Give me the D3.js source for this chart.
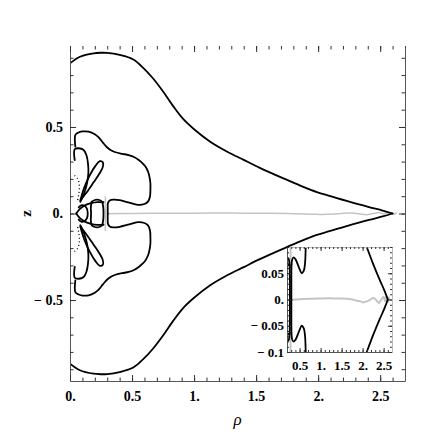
<!DOCTYPE html>
<html><head><meta charset="utf-8">
<script src="https://cdn.jsdelivr.net/npm/d3@7/dist/d3.min.js"></script>
<style>
html,body{margin:0;padding:0;background:#fff}
svg text{font-family:"Liberation Serif","Times New Roman",Times,"DejaVu Serif",serif !important;}
</style>
</head><body>
<svg id="c" width="436" height="436"></svg>
<script>
// ---------- data (rho, z) ----------
const outerUpper=[[0,0.868],[0.08,0.906],[0.19,0.926],[0.25,0.929],[0.30,0.928],[0.40,0.916],[0.51,0.89],[0.59,0.842],[0.67,0.78],[0.75,0.705],[0.83,0.622],[0.91,0.548],[1.0,0.487],[1.13,0.415],[1.26,0.36],[1.40,0.31],[1.53,0.264],[1.72,0.203],[1.86,0.16],[1.99,0.124],[2.09,0.102],[2.25,0.068],[2.41,0.037],[2.52,0.017],[2.6,0]];
const outerLower=[[0,-0.868],[0.08,-0.906],[0.19,-0.926],[0.25,-0.929],[0.30,-0.928],[0.40,-0.916],[0.51,-0.89],[0.59,-0.842],[0.67,-0.78],[0.75,-0.705],[0.83,-0.622],[0.91,-0.548],[1.0,-0.487],[1.13,-0.415],[1.26,-0.36],[1.40,-0.31],[1.53,-0.264],[1.72,-0.203],[1.86,-0.16],[1.99,-0.124],[2.09,-0.102],[2.25,-0.068],[2.41,-0.037],[2.52,-0.017],[2.6,0]];
const lobeUpper=[[0.043,0.386],[0.043,0.454],[0.065,0.467],[0.10,0.474],[0.15,0.473],[0.20,0.458],[0.231,0.44],[0.265,0.41],[0.298,0.383],[0.33,0.365],[0.366,0.354],[0.42,0.345],[0.473,0.338],[0.52,0.325],[0.554,0.309],[0.585,0.29],[0.608,0.271],[0.63,0.24],[0.64,0.213],[0.648,0.175],[0.648,0.136],[0.645,0.10],[0.63,0.07],[0.60,0.055],[0.55,0.05],[0.50,0.058],[0.46,0.066],[0.40,0.077],[0.35,0.08],[0.32,0.075],[0.306,0.06],[0.304,0.03],[0.304,0]];
const lobeLower=[[0.043,-0.386],[0.043,-0.454],[0.065,-0.467],[0.10,-0.474],[0.15,-0.473],[0.20,-0.458],[0.231,-0.44],[0.265,-0.41],[0.298,-0.383],[0.33,-0.365],[0.366,-0.354],[0.42,-0.345],[0.473,-0.338],[0.52,-0.325],[0.554,-0.309],[0.585,-0.29],[0.608,-0.271],[0.63,-0.24],[0.64,-0.213],[0.648,-0.175],[0.648,-0.136],[0.645,-0.10],[0.63,-0.07],[0.60,-0.055],[0.55,-0.05],[0.50,-0.058],[0.46,-0.066],[0.40,-0.077],[0.35,-0.08],[0.32,-0.075],[0.306,-0.06],[0.304,-0.03],[0.304,0]];
const innerUpper=[[0.038,0.309],[0.038,0.371],[0.07,0.377],[0.11,0.367],[0.132,0.338],[0.145,0.29],[0.148,0.232],[0.137,0.175],[0.118,0.126],[0.097,0.088],[0.083,0.068]];
const innerLower=[[0.038,-0.309],[0.038,-0.371],[0.07,-0.377],[0.11,-0.367],[0.132,-0.338],[0.145,-0.29],[0.148,-0.232],[0.137,-0.175],[0.118,-0.126],[0.097,-0.088],[0.083,-0.068]];
const petalUpper=[[0.083,0.075],[0.115,0.15],[0.16,0.222],[0.205,0.275],[0.24,0.302],[0.265,0.296],[0.264,0.268],[0.235,0.228],[0.19,0.18],[0.13,0.118],[0.083,0.075]];
const petalLower=[[0.083,-0.075],[0.115,-0.15],[0.16,-0.222],[0.205,-0.275],[0.24,-0.302],[0.265,-0.296],[0.264,-0.268],[0.235,-0.228],[0.19,-0.18],[0.13,-0.118],[0.083,-0.075]];
const wingUpper=[[0.05,0],[0.08,0.027],[0.12,0.047],[0.17,0.06],[0.22,0.066],[0.27,0.065]];
const wingLower=[[0.05,0],[0.08,-0.027],[0.12,-0.047],[0.17,-0.06],[0.22,-0.066],[0.27,-0.065]];
const loopSmall=[[0.07,0.036],[0.09,0.047],[0.115,0.045],[0.135,0.03],[0.143,0],[0.135,-0.03],[0.115,-0.045],[0.09,-0.047],[0.07,-0.036]];
const loopU=[[0.175,0.068],[0.168,0.035],[0.17,0],[0.168,-0.035],[0.175,-0.068],[0.2,-0.078],[0.235,-0.078],[0.258,-0.068],[0.268,-0.035],[0.27,0],[0.268,0.035],[0.258,0.068],[0.235,0.078],[0.2,0.078],[0.175,0.068]];
const dottedUpper=[[0.036,0.22],[0.056,0.207],[0.07,0.185],[0.076,0.15],[0.07,0.11],[0.058,0.065]];
const dottedLower=[[0.036,-0.22],[0.056,-0.207],[0.07,-0.185],[0.076,-0.15],[0.07,-0.11],[0.058,-0.065]];
const grayLine=[[0.30,-0.001],[0.50,0.0005],[0.81,0.0015],[1.00,0.002],[1.22,0.0023],[1.40,0.002],[1.61,0.0015],[1.75,0],[1.85,-0.002],[1.97,-0.004],[2.01,-0.0055],[2.08,-0.004],[2.17,-0.001],[2.25,0.003],[2.30,0.001],[2.34,-0.003],[2.39,-0.0067],[2.43,-0.002],[2.47,0.003],[2.50,0.005],[2.53,-0.003],[2.55,0.005],[2.57,-0.005],[2.59,0.005],[2.61,-0.005],[2.63,0.004],[2.62,0.0]];
const grayVertical=[[0.285,0.1],[0.285,-0.1]];

const xTickVals=[0,0.5,1,1.5,2,2.5];
const xTickLabels=["0.","0.5","1.","1.5","2.","2.5"];
const yTickVals=[-0.5,0,0.5];
const yTickLabels=["\u2212 0.5","0.","0.5"];
const insetXTickVals=[0.5,1,1.5,2,2.5];
const insetXTickLabels=["0.5","1.","1.5","2.","2.5"];
const insetYTickVals=[-0.1,-0.05,0,0.05];
const insetYTickLabels=["\u2212 0.1","\u2212 0.05","0.","0.05"];

// ---------- drawing ----------
const svg=d3.select("#c");
const FONT="Liberation Serif";
const M={l:70,r:405,t:46,b:381};
const x=d3.scaleLinear().domain([0,2.7]).range([M.l,M.r]);
const y=d3.scaleLinear().domain([-0.968,0.968]).range([M.b,M.t]);
const I={l:287,r:392,t:247,b:352};
const xi=d3.scaleLinear().domain([0.2,2.7]).range([I.l,I.r]);
const yi=d3.scaleLinear().domain([-0.1,0.1]).range([I.b,I.t]);

const defs=svg.append("defs");
defs.append("clipPath").attr("id","cm").append("rect").attr("x",M.l).attr("y",M.t).attr("width",M.r-M.l).attr("height",M.b-M.t);
defs.append("clipPath").attr("id","ci").append("rect").attr("x",I.l).attr("y",I.t).attr("width",I.r-I.l).attr("height",I.b-I.t);

const blacks=[outerUpper,outerLower,lobeUpper,lobeLower,innerUpper,innerLower,petalUpper,petalLower,wingUpper,wingLower,loopSmall,loopU];
const dots=[dottedUpper,dottedLower];
const grays=[grayVertical,grayLine];

function drawCurves(g,sx,sy,w,gw){
  const line=d3.line().x(d=>sx(d[0])).y(d=>sy(d[1])).curve(d3.curveCatmullRom.alpha(0.5));
  g.selectAll("path.g").data(grays).join("path").attr("class","g").attr("d",line)
    .attr("fill","none").attr("stroke","#c4c4c4").attr("stroke-width",gw);
  g.selectAll("path.k").data(blacks).join("path").attr("class","k").attr("d",line)
    .attr("fill","none").attr("stroke","#000").attr("stroke-width",w).attr("stroke-linejoin","round").attr("stroke-linecap","round");
  g.selectAll("path.d").data(dots).join("path").attr("class","d").attr("d",line)
    .attr("fill","none").attr("stroke","#000").attr("stroke-width",1.3).attr("stroke-dasharray","1,2.6");
}

drawCurves(svg.append("g").attr("clip-path","url(#cm)"),x,y,1.8,1.5);

function styleAxis(g,fs){
  g.attr("font-family",null);
  g.selectAll(".tick line").attr("stroke","#333");
  g.select(".domain").attr("stroke","#555");
  g.selectAll("text").attr("font-family",FONT).attr("font-weight","bold").attr("font-size",fs).attr("fill","#000");
}
function minorVals(a,b,step){const n=Math.round((b-a)/step);return d3.range(n+1).map(i=>+(a+i*step).toFixed(4));}

const xMinor=minorVals(0,2.7,0.1), yMinor=minorVals(-0.9,0.9,0.1);
svg.append("g").attr("transform",`translate(0,${M.b})`).call(d3.axisBottom(x).tickValues(xMinor).tickSize(-3.5).tickSizeOuter(0).tickFormat("")).call(g=>styleAxis(g,14));
svg.append("g").attr("transform",`translate(0,${M.t})`).call(d3.axisTop(x).tickValues(xMinor).tickSize(-3.5).tickSizeOuter(0).tickFormat("")).call(g=>{styleAxis(g,14);g.select(".domain").remove();});
svg.append("g").attr("transform",`translate(${M.l},0)`).call(d3.axisLeft(y).tickValues(yMinor).tickSize(-3.5).tickSizeOuter(0).tickFormat("")).call(g=>styleAxis(g,14));
svg.append("g").attr("transform",`translate(${M.r},0)`).call(d3.axisRight(y).tickValues(yMinor).tickSize(-3.5).tickSizeOuter(0).tickFormat("")).call(g=>styleAxis(g,14));
svg.append("g").attr("transform",`translate(0,${M.b})`).call(d3.axisBottom(x).tickValues(xTickVals).tickSize(-6).tickSizeOuter(0).tickPadding(10).tickFormat((d,i)=>xTickLabels[i])).call(g=>{styleAxis(g,14);g.select(".domain").remove();});
svg.append("g").attr("transform",`translate(0,${M.t})`).call(d3.axisTop(x).tickValues(xTickVals).tickSize(-6).tickSizeOuter(0).tickFormat("")).call(g=>{styleAxis(g,14);g.select(".domain").remove();});
svg.append("g").attr("transform",`translate(${M.l},0)`).call(d3.axisLeft(y).tickValues(yTickVals).tickSize(-6).tickSizeOuter(0).tickPadding(7).tickFormat((d,i)=>yTickLabels[i])).call(g=>{styleAxis(g,14);g.select(".domain").remove();});
svg.append("g").attr("transform",`translate(${M.r},0)`).call(d3.axisRight(y).tickValues(yTickVals).tickSize(-6).tickSizeOuter(0).tickFormat("")).call(g=>{styleAxis(g,14);g.select(".domain").remove();});

svg.append("text").attr("x",(M.l+M.r)/2).attr("y",425).attr("text-anchor","middle")
  .attr("font-family",FONT).attr("font-style","italic").attr("font-size",17).text("\u03c1");
svg.append("text").attr("transform",`translate(31,${y(0)}) rotate(-90)`).attr("text-anchor","middle")
  .attr("font-family",FONT).attr("font-weight","bold").attr("font-size",15).text("z");

// ---------- inset ----------
svg.append("rect").attr("x",I.l).attr("y",I.t).attr("width",I.r-I.l).attr("height",I.b-I.t).attr("fill","#fff");
drawCurves(svg.append("g").attr("clip-path","url(#ci)"),xi,yi,1.8,2);
const ixMinor=minorVals(0.2,2.7,0.1), iyMinor=minorVals(-0.1,0.1,0.01);
svg.append("g").attr("transform",`translate(0,${I.b})`).call(d3.axisBottom(xi).tickValues(ixMinor).tickSize(-2).tickSizeOuter(0).tickFormat("")).call(g=>styleAxis(g,13));
svg.append("g").attr("transform",`translate(0,${I.t})`).call(d3.axisTop(xi).tickValues(ixMinor).tickSize(-2).tickSizeOuter(0).tickFormat("")).call(g=>{styleAxis(g,13);g.select(".domain").attr("stroke","#bbb");});
svg.append("g").attr("transform",`translate(${I.l},0)`).call(d3.axisLeft(yi).tickValues(iyMinor).tickSize(-2).tickSizeOuter(0).tickFormat("")).call(g=>styleAxis(g,13));
svg.append("g").attr("transform",`translate(${I.r},0)`).call(d3.axisRight(yi).tickValues(iyMinor).tickSize(-2).tickSizeOuter(0).tickFormat("")).call(g=>{styleAxis(g,13);g.select(".domain").attr("stroke","#bbb");});
svg.append("g").attr("transform",`translate(0,${I.b})`).call(d3.axisBottom(xi).tickValues(insetXTickVals).tickSize(-4).tickSizeOuter(0).tickPadding(9).tickFormat((d,i)=>insetXTickLabels[i])).call(g=>{styleAxis(g,13);g.select(".domain").remove();});
svg.append("g").attr("transform",`translate(0,${I.t})`).call(d3.axisTop(xi).tickValues(insetXTickVals).tickSize(-4).tickSizeOuter(0).tickFormat("")).call(g=>{styleAxis(g,13);g.select(".domain").remove();});
svg.append("g").attr("transform",`translate(${I.l},0)`).call(d3.axisLeft(yi).tickValues(insetYTickVals).tickSize(-4).tickSizeOuter(0).tickPadding(3).tickFormat((d,i)=>insetYTickLabels[i])).call(g=>{styleAxis(g,13);g.select(".domain").remove();});
svg.append("g").attr("transform",`translate(${I.r},0)`).call(d3.axisRight(yi).tickValues(insetYTickVals).tickSize(-4).tickSizeOuter(0).tickFormat("")).call(g=>{styleAxis(g,13);g.select(".domain").remove();});
</script>
</body></html>
